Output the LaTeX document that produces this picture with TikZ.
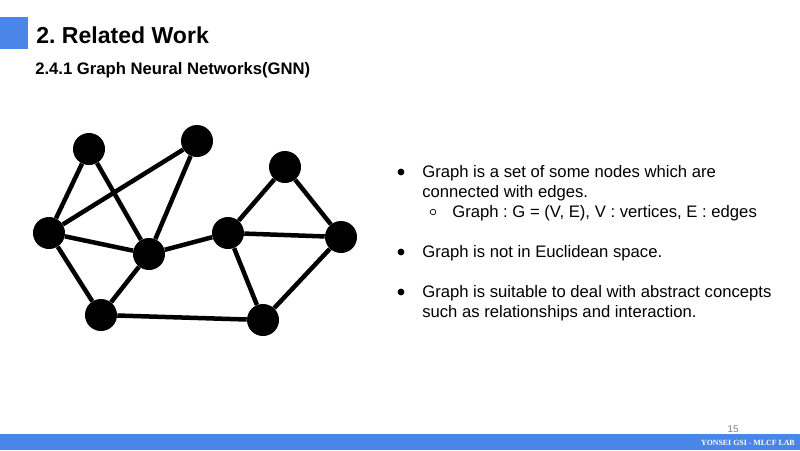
\documentclass[tikz,border=0pt]{standalone}
\usepackage{fontspec}
\setmainfont{Liberation Sans}
\newfontfamily\piefont{Liberation Serif}
\usetikzlibrary{positioning}
\definecolor{azulbarra}{HTML}{4A86E8}
\frenchspacing

\begin{document}
\begin{tikzpicture}[x=0.025cm, y=-0.025cm,
  vertice/.style={circle, fill=black, inner sep=0pt, minimum size=0.8cm},
  arista/.style={line width=3.2pt},
  linea/.style={anchor=base west, inner sep=0pt, font=\fontsize{11.85}{13}\selectfont},
  vineta/.style={circle, fill=black, inner sep=0pt, minimum size=0.17cm},
  subvineta/.style={circle, draw=black, line width=0.5pt, inner sep=0pt, minimum size=0.14cm}
]
\useasboundingbox (0,0) rectangle (800,450);
% cabecera
\fill[azulbarra] (0,17) rectangle (28,49);
\node[anchor=base west, inner sep=0pt, font=\fontsize{16.4}{20}\selectfont\bfseries] (titulo) at (36,43) {2. Related Work};
\node[anchor=base west, inner sep=0pt, font=\fontsize{11.85}{14}\selectfont\bfseries] (subtitulo) at (35,74) {2.4.1 Graph Neural Networks(GNN)};

% grafo
\node[vertice] (v1) at (89,149) {};
\node[vertice] (v2) at (197,141) {};
\node[vertice] (v3) at (49,233) {};
\node[vertice] (v4) at (149,254) {};
\node[vertice] (v5) at (101,315) {};
\node[vertice] (v6) at (285,167) {};
\node[vertice] (v7) at (228,233) {};
\node[vertice] (v8) at (341,237) {};
\node[vertice] (v9) at (263,320) {};
\foreach \a/\b in {v1/v3, v1/v4, v2/v3, v2/v4, v3/v4, v3/v5, v4/v5, v4/v7,
                   v5/v9, v7/v6, v6/v8, v7/v8, v7/v9, v9/v8}
  \draw[arista] (\a) -- (\b);

% texto
\node[vineta] (b1) at (401,172) {};
\node[linea] (t1) at (422,177) {Graph is a set of some nodes which are};
\node[linea] (t2) at (422,197) {connected with edges.};
\node[subvineta] (b2) at (433,212) {};
\node[linea] (t3) at (452,217) {Graph : G = (V, E), V : vertices, E : edges};
\node[vineta] (b3) at (401,252) {};
\node[linea] (t4) at (422,257) {Graph is not in Euclidean space.};
\node[vineta] (b4) at (401,292) {};
\node[linea] (t5) at (422,297) {Graph is suitable to deal with abstract concepts};
\node[linea] (t6) at (422,317) {such as relationships and interaction.};

% pie
\node[anchor=base, inner sep=0pt, text=gray, font=\fontsize{7}{8}\selectfont] (pagina) at (733,432) {15};
\fill[azulbarra] (0,434) rectangle (800,450);
\node[anchor=base east, inner sep=0pt, text=white, font=\piefont\fontsize{5.6}{7}\selectfont\bfseries] (lab) at (795,445.5) {YONSEI GSI - MLCF LAB};
\end{tikzpicture}
\end{document}
